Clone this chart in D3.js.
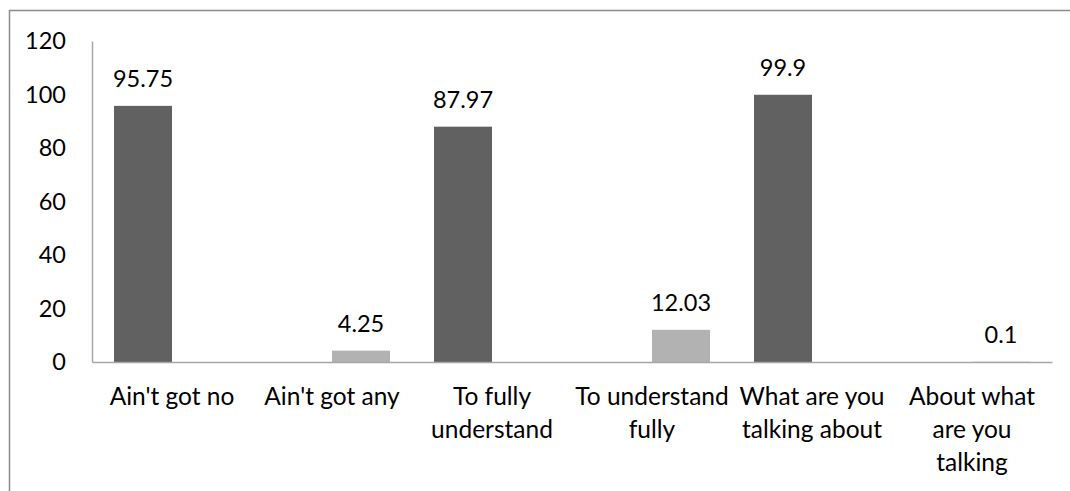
<!DOCTYPE html>
<html>
<head>
<meta charset="utf-8">
<script src="https://cdn.jsdelivr.net/npm/d3@7"></script>
<style>
  body { margin: 0; background: #fff; }
  text { font-family: Lato, "Open Sans", sans-serif; fill: #000; }
</style>
</head>
<body>
<div id="container"></div>
<script>
//Categories and their wrapped tick label lines
var categories = ["Ain't got no", "Ain't got any", "To fully understand",
    "To understand fully", "What are you talking about", "About what are you talking"];
var tickLines = [["Ain't got no"], ["Ain't got any"], ["To fully", "understand"],
    ["To understand", "fully"], ["What are you", "talking about"], ["About what", "are you", "talking"]];

//Two series, null where a category has no bar
var seriesNames = ["first", "second"];
var firstValues = [95.75, null, 87.97, null, 99.9, null];
var secondValues = [null, 4.25, null, 12.03, null, 0.1];
var yTicks = [0, 20, 40, 60, 80, 100, 120];

var colors = { first: "#616161", second: "#b2b2b2" };

var width = 1070,
    height = 491;
var plot = { left: 92, right: 1052, top: 41, bottom: 362 };

var svg = d3.select("#container").append("svg")
    .attr("width", width)
    .attr("height", height);

//Outer chart border (runs off the right and bottom of the picture)
svg.append("rect")
    .attr("x", 9.5).attr("y", 10.5)
    .attr("width", 1100).attr("height", 600)
    .attr("fill", "none")
    .attr("stroke", "#8c8c8c")
    .attr("stroke-width", 1.5);

var x = d3.scaleBand()
    .domain(categories)
    .range([plot.left, plot.right])
    .paddingInner(0.275)
    .paddingOuter(0.1375);

var xSub = d3.scaleBand()
    .domain(seriesNames)
    .range([0, x.bandwidth()]);

var y = d3.scaleLinear()
    .domain([0, 120])
    .range([plot.bottom, plot.top]);

//Table of bars built from the series arrays
var rows = categories.map(function (c, i) {
    return { cat: c, first: firstValues[i], second: secondValues[i] };
});

//Y axis
var yAxis = svg.append("g")
    .attr("transform", "translate(" + plot.left + ",0)")
    .call(d3.axisLeft(y).tickValues(yTicks).tickSize(0).tickPadding(26));
yAxis.select(".domain").attr("stroke", "#a6a6a6").attr("stroke-width", 1.5);
yAxis.selectAll("text")
    .style("font-family", "Lato, sans-serif")
    .style("font-size", "23.5px")
    .attr("fill", "#000");

//Bars
var groups = svg.append("g")
    .selectAll("g")
    .data(rows)
    .enter().append("g")
    .attr("transform", function (d) { return "translate(" + x(d.cat) + ",0)"; });

var bars = groups.selectAll("g")
    .data(function (d) {
        return seriesNames.map(function (s) { return { key: s, value: d[s] }; })
            .filter(function (e) { return e.value != null; });
    })
    .enter().append("g");

bars.append("rect")
    .attr("x", function (d) { return xSub(d.key); })
    .attr("y", function (d) { return y(d.value); })
    .attr("width", xSub.bandwidth())
    .attr("height", function (d) { return y(0) - y(d.value); })
    .attr("fill", function (d) { return colors[d.key]; });

//Value labels
bars.append("text")
    .attr("x", function (d) { return xSub(d.key) + xSub.bandwidth() / 2; })
    .attr("y", function (d) { return y(d.value) - 19; })
    .attr("text-anchor", "middle")
    .style("font-size", "23.5px")
    .text(function (d) { return d.value; });

//X axis line
var xAxis = svg.append("g")
    .attr("transform", "translate(0," + plot.bottom + ")")
    .call(d3.axisBottom(x).tickSize(0).tickFormat(""));
xAxis.select(".domain").attr("stroke", "#a6a6a6").attr("stroke-width", 1.5);

//Category labels, wrapped
var labels = svg.append("g")
    .selectAll("text")
    .data(categories)
    .enter().append("text")
    .attr("text-anchor", "middle")
    .style("font-size", "24.5px")
    .attr("transform", function (d) {
        return "translate(" + (x(d) + x.bandwidth() / 2) + ",405)";
    });

labels.selectAll("tspan")
    .data(function (d, i) { return tickLines[i]; })
    .enter().append("tspan")
    .attr("x", 0)
    .attr("y", function (d, j) { return j * 33; })
    .text(function (d) { return d; });
</script>
</body>
</html>
